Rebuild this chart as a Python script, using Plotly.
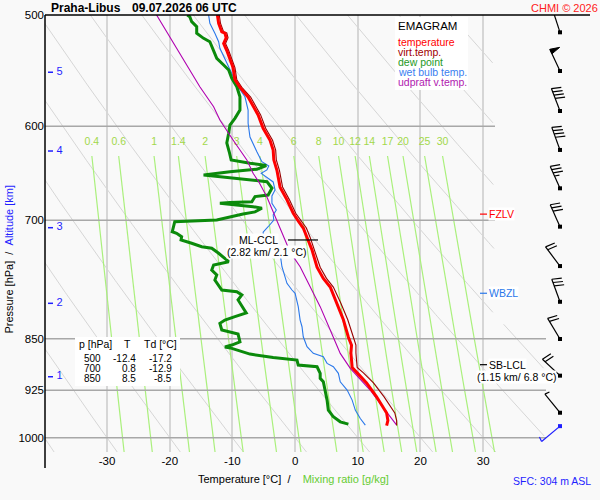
import numpy as np
import plotly.graph_objects as go

# ---------------- data ----------------
P_T = [500, 507, 514, 515, 519, 524, 530, 538, 545, 556, 563, 572, 581, 589, 602, 614, 624, 634, 645, 663,
       677, 692, 702, 709, 720, 735, 756, 770, 781, 802, 824, 848, 859, 870, 891, 899, 914, 935, 951, 960, 972, 980]
T_C = [-12.4, -12.2, -11.7, -11.2, -11.0, -11.4, -10.9, -10.4, -9.9, -9.6, -8.8, -7.5, -6.7, -5.9, -5.1, -4.0,
       -3.5, -3.4, -2.9, -2.4, -1.3, -0.3, 0.6, 1.3, 1.9, 2.7, 3.5, 4.5, 5.6, 6.7, 7.7, 8.5, 9.0, 8.9, 9.1, 9.9,
       11.4, 13.0, 14.0, 14.6, 14.8, 14.6]
TV_C = [-12.1, -11.9, -11.4, -10.9, -10.7, -11.1, -10.6, -10.1, -9.6, -9.3, -8.5, -7.1, -6.3, -5.5, -4.7, -3.6,
        -3.1, -3.0, -2.5, -2.0, -0.9, 0.1, 1.1, 1.8, 2.4, 3.1, 4.0, 5.0, 6.1, 7.3, 8.4, 9.3, 9.7, 9.7, 9.9, 10.9,
        12.5, 14.2, 15.3, 15.9, 16.2, 16.2]

P_TD = [500, 501.4, 505.5, 509.7, 515.2, 519.5, 522.4, 529.5, 536.8, 542.7, 547.2, 554.7, 562.4, 571.7, 584.3,
        592.3, 598.8, 607.0, 616.7, 625.9, 634.2, 637.6, 639.9, 643.9, 646.4, 649.9, 653.4, 657.1, 664.2, 671.6,
        673.4, 679.0, 679.9, 680.8, 684.6, 686.4, 690.5, 692.9, 699.7, 701.7, 713.3, 715.1, 719.2, 723.0, 726.9,
        731.0, 732.9, 738.9, 749.2, 753.3, 759.5, 765.7, 772.0, 784.8, 787.0, 791.2, 797.7, 806.5, 814.9, 819.9,
        824.4, 828.9, 838.0, 843.6, 854.3, 858.9, 861.7, 863.6, 871.7, 876.5, 880.3, 887.6, 890.0, 899.7, 907.1,
        912.2, 924.7, 940.0, 955.5, 966.1, 974.1, 977.8]
TD_C = [-17.2, -16.8, -16.5, -15.7, -15.7, -14.6, -13.6, -13.0, -12.5, -11.4, -10.6, -10.1, -9.3, -8.8, -8.8,
        -9.6, -10.4, -10.6, -10.9, -10.5, -10.2, -7.2, -4.6, -6.1, -10.4, -14.6, -9.9, -4.5, -3.7, -4.3,
        -6.4, -6.9, -10.4, -12.0, -6.7, -5.3, -6.4, -8.3, -12.5, -19.2, -19.6, -18.9, -18.1, -18.2, -16.5,
        -14.9, -13.3, -12.2, -10.6, -13.0, -13.3, -12.5, -12.8, -11.7, -9.3, -8.5, -9.1, -8.5, -7.8, -9.6,
        -11.2, -12.0, -11.7, -9.1, -8.8, -10.1, -11.2, -10.1, -7.2, -3.5, 0.3, 0.5, 3.5, 4.0, 4.0,
        4.5, 4.8, 5.1, 5.3, 6.1, 7.2, 8.5]

P_TW = [500, 506.9, 515.2, 522.4, 528.1, 541.2, 550.2, 562.4, 571.7, 584.3, 597.1, 610.7, 625.6, 635.9, 640.4,
        644.6, 648.2, 653.4, 657.4, 666.1, 672.7, 680.8, 688.3, 694.0, 699.7, 707.5, 713.7, 723.0, 731.4, 738.9,
        755.4, 776.2, 784.8, 789.1, 806.5, 824.4, 833.5, 847.3, 861.3, 870.7, 875.6, 885.1, 890.0, 899.7, 912.2,
        924.7, 940.0, 955.5, 968.8, 979.3]
TW_C = [-13.8, -13.6, -12.8, -12.2, -12.0, -10.9, -10.1, -9.1, -8.0, -7.5, -7.5, -7.2, -6.1, -5.3, -4.2,
        -4.5, -5.4, -4.3, -3.5, -3.2, -3.7, -3.7, -3.0, -3.5, -3.4, -4.3, -5.1, -5.0, -3.7, -2.4,
        -2.1, -1.3, -0.5, 0.0, 0.5, 0.8, 1.1, 1.3, 1.9, 2.9, 4.5, 5.1, 6.1, 6.9, 7.2,
        8.3, 9.1, 9.6, 10.4, 11.2]

P_PV = [500, 518.1, 538.3, 562.4, 581.1, 593.9, 613.7, 623.8, 634.2, 648.2, 657.1, 673.8, 699.7, 723.0, 737.4,
        755.4, 780.6, 806.5, 838.0, 870.7, 892.4, 925.0, 951.0, 979.3]
PV_C = [-22.1, -20.0, -17.8, -15.2, -13.0, -12.0, -9.9, -8.8, -7.7, -6.7, -5.8, -4.5, -2.9, -1.6, -0.8,
        0.8, 2.4, 4.0, 5.6, 7.2, 8.8, 12.0, 14.0, 16.2]

WIND_P = [514.4, 548.1, 585.2, 623.8, 664.3, 707.4, 754.6, 800.1, 850.4, 903.1, 959.7]
WIND_DIR = [342, 335, 339, 340, 336, 336, 323, 340, 329, 313, 321]
WIND_KT = [50, 50, 40, 40, 35, 30, 20, 30, 20, 20, 5]
SFC_P, SFC_DIR, SFC_KT = 981.0, 230, 5

ALT_KM = [1, 2, 3, 4, 5]
ALT_P = [904.7, 802.1, 708.6, 624.9, 549.2]

TABLE_P = [500, 700, 850]
TABLE_T = [-12.4, 0.8, 8.5]
TABLE_TD = [-17.2, -12.9, -8.5]

MIX_RATIOS = [0.4, 0.6, 1, 1.4, 2, 3, 4, 6, 8, 10, 12, 14, 17, 20, 25, 30]
P_TICKS = [500, 600, 700, 850, 925, 1000]
T_TICKS = [-30, -20, -10, 0, 10, 20, 30]
THETA_C = list(range(-40, 141, 10))

FZLV_P, WBZL_P, SBLCL_P, MLCCL_P, MLCCL_T = 693, 789, 887, 723, 2.1

# ---------------- layout geometry ----------------
W, H = 600, 500
ML, MR, MT, MB = 45, 4, 15, 48
PW, PH = W - ML - MR, H - MT - MB
TMIN, TMAX = -39.9, 48.0
PTOP, PBOT = 500.0, 1023.5
LT, LB = np.log10(PTOP), np.log10(PBOT)
FONT = "Liberation Sans, Arial, sans-serif"


def tx(px):
    return TMIN + (px - ML) / PW * (TMAX - TMIN)


def xpap(px):
    return (px - ML) / PW


def ypap(py):
    return (MT + PH - py) / PH


def ypap_p(p):
    return (LB - np.log10(p)) / (LB - LT)


KX = (TMAX - TMIN) / PW
KY = (LB - LT) / PH

fig = go.Figure()


def add_line(xs, ys, color, width, dash=None):
    fig.add_trace(go.Scatter(x=xs, y=ys, mode="lines", line=dict(color=color, width=width, dash=dash),
                             hoverinfo="skip", showlegend=False))


# dry adiabats
pa = np.geomspace(PTOP, PBOT, 220)
ax, ay = [], []
for th in THETA_C:
    t = (th + 273.15) * (pa / 1000.0) ** 0.2857 - 273.15
    ok = (t <= tx(494)) | ((pa >= 830) & (t <= tx(545)))
    for ti, pi, k in zip(t, pa, ok):
        ax.append(float(ti) if k else None)
        ay.append(float(pi))
    ax.append(None); ay.append(None)
add_line(ax, ay, "#d6d6d6", 1)

# mixing ratio lines
pm = np.geomspace(630, PBOT, 60)
mx, my, lx = [], [], []
for w in MIX_RATIOS:
    e = w * pm / (622.0 + w)
    le = np.log(e / 6.112)
    td = 243.5 * le / (17.67 - le)
    mx += list(td) + [None]
    my += list(pm) + [None]
    lx.append(float(td[0]))
add_line(mx, my, "#aaf07c", 1.2)
fig.add_trace(go.Scatter(x=lx, y=[616.5] * len(lx), mode="text",
                         text=[("%g" % w) for w in MIX_RATIOS],
                         textfont=dict(family=FONT, size=10.5, color="#a2d84a"),
                         hoverinfo="skip", showlegend=False))

# horizontal pressure lines
for p in P_TICKS[1:]:
    xe = tx(495) if p < 800 else tx(546)
    add_line([TMIN, xe], [p, p], "#a8a8a8", 1.5)

# altitude ticks
for km, p in zip(ALT_KM, ALT_P):
    add_line([tx(48), tx(53)], [p, p], "#1f1fff", 1.5)
fig.add_trace(go.Scatter(x=[tx(59.5)] * len(ALT_KM), y=ALT_P, mode="text", text=[str(k) for k in ALT_KM],
                         textfont=dict(family=FONT, size=11, color="#1f1fff"), hoverinfo="skip",
                         showlegend=False))

# sounding
add_line(TW_C, P_TW, "#2a78ea", 1.1)
add_line(TD_C, P_TD, "#0b8a0b", 3)
add_line(PV_C, P_PV, "#b000b0", 1.1)
add_line(TV_C, P_T, "#990000", 1.1)
add_line(T_C, P_T, "#ff0000", 3)

# ML-CCL, FZLV, WBZL, SB-LCL markers
add_line([tx(288), tx(318)], [MLCCL_P, MLCCL_P], "#000000", 1.2)
add_line([tx(480), tx(487)], [FZLV_P, FZLV_P], "#ff0000", 1.2)
add_line([tx(480), tx(487)], [WBZL_P, WBZL_P], "#2a78ea", 1.2)
add_line([tx(480), tx(487)], [SBLCL_P, SBLCL_P], "#000000", 1.2)

# wind barbs
BX = tx(560)


def barb(p, ddeg, spd, color):
    th = np.radians(ddeg)
    u = np.array([np.sin(th), -np.cos(th)])
    perp = np.array([-u[1], u[0]])
    a = np.radians(14)
    b = np.cos(a) * perp - np.sin(a) * u
    L = 24.0

    def d(v):
        return BX + v[0] * KX, 10 ** (np.log10(p) + v[1] * KY)

    segs = [[np.zeros(2), L * u]]
    polys = []
    n50 = spd // 50
    rem = spd - 50 * n50
    n10 = rem // 10
    n5 = 1 if rem % 10 >= 5 else 0
    pos = L
    for _ in range(n50):
        p0, p1 = pos * u, (pos - 5) * u
        polys.append([p0, p0 + 10 * b, p1, p0])
        pos -= 6.5
    for _ in range(n10):
        segs.append([pos * u, pos * u + 10 * b])
        pos -= 3.5
    if n5:
        segs.append([pos * u, pos * u + 5 * b])
    xs, ys = [], []
    for s in segs:
        for v in s:
            xx, yy = d(v)
            xs.append(xx); ys.append(yy)
        xs.append(None); ys.append(None)
    add_line(xs, ys, color, 1.2)
    for poly in polys:
        pts = [d(v) for v in poly]
        fig.add_trace(go.Scatter(x=[q[0] for q in pts], y=[q[1] for q in pts], mode="lines", fill="toself",
                                 fillcolor=color, line=dict(color=color, width=1), hoverinfo="skip",
                                 showlegend=False))


for p, dd, s in zip(WIND_P, WIND_DIR, WIND_KT):
    barb(p, dd, s, "#000000")
barb(SFC_P, SFC_DIR, SFC_KT, "#1f1fff")
fig.add_trace(go.Scatter(x=[BX] * len(WIND_P), y=WIND_P, mode="markers",
                         marker=dict(symbol="square", size=4, color="#000000"), hoverinfo="skip",
                         showlegend=False))
fig.add_trace(go.Scatter(x=[BX], y=[SFC_P], mode="markers",
                         marker=dict(symbol="square", size=4, color="#1f1fff"), hoverinfo="skip",
                         showlegend=False))

# ---------------- shapes & annotations ----------------
shapes = [
    dict(type="line", xref="paper", yref="paper", x0=0, x1=0, y0=ypap(468), y1=1,
         line=dict(color="#000000", width=1.5)),
    dict(type="line", xref="paper", yref="paper", x0=0, x1=xpap(590), y0=1, y1=1,
         line=dict(color="#000000", width=1.5)),
    dict(type="rect", xref="paper", yref="paper", x0=xpap(395), x1=xpap(468), y0=ypap(90), y1=ypap(17),
         fillcolor="#ffffff", line=dict(width=0)),
    dict(type="rect", xref="paper", yref="paper", x0=xpap(75), x1=xpap(180), y0=ypap(386), y1=ypap(337),
         fillcolor="#ffffff", line=dict(width=0)),
]

ann = []


def text(px, py, s, size=10.5, color="#000000", xanchor="left", bg=None, yp=None, **kw):
    d = dict(x=xpap(px), y=(ypap(py) if yp is None else yp), xref="paper", yref="paper", text=s,
             showarrow=False, xanchor=xanchor, yanchor="middle",
             font=dict(family=FONT, size=size, color=color), borderpad=0)
    if bg:
        d["bgcolor"] = bg
    d.update(kw)
    ann.append(d)


text(50, 7.5, "<b>Praha-Libus</b>", size=12)
text(131, 7.5, "<b>09.07.2026 06 UTC</b>", size=12)
text(530, 7.5, "CHMI © 2026", size=11, color="#ff2020")

text(397, 26, "EMAGRAM", size=11.5)
for i, (s, c) in enumerate([("temperature", "#ff0000"), ("virt.temp.", "#a00000"), ("dew point", "#1e9a1e"),
                            ("wet bulb temp.", "#3a80f0"), ("udpraft v.temp.", "#b020b0")]):
    text(397, 42 + 10 * i, s, size=10.5, color=c)

text(78, 344, "p [hPa]", size=10.5)
text(127, 344, "T", size=10.5, xanchor="center")
text(143, 344, "Td [°C]", size=10.5)
for i, (pp, tt, dd) in enumerate(zip(TABLE_P, TABLE_T, TABLE_TD)):
    y = 358.3 + 10 * i
    text(102, y, str(pp), size=10, xanchor="right")
    text(137, y, "%.1f" % tt, size=10, xanchor="right")
    text(173, y, "%.1f" % dd, size=10, xanchor="right")

text(488, 0, "FZLV", color="#ff0000", bg="#ffffff", yp=ypap_p(FZLV_P))
text(488, 0, "WBZL", color="#2a78ea", bg="#ffffff", yp=ypap_p(WBZL_P))
text(488, 0, "SB-LCL", color="#000000", bg="#ffffff", yp=ypap_p(SBLCL_P))
text(516, 376.5, "(1.15 km/ 6.8 °C)", xanchor="center", bg="#ffffff")
text(279, 0, "ML-CCL", xanchor="right", bg="#ffffff", yp=ypap_p(MLCCL_P))
text(266.5, 251.5, "(2.82 km/ %.1f °C)" % MLCCL_T, xanchor="center", bg="#ffffff")

text(197, 479, 'Temperature [°C]&nbsp;&nbsp;/&nbsp;&nbsp;&nbsp;&nbsp;'
               '<span style="color:#66cc33">Mixing ratio [g/kg]</span>', size=11)
text(512, 481, "SFC: 304 m ASL", size=10.5, color="#1f1fff")
ann.append(dict(x=xpap(8.5), y=ypap(259), xref="paper", yref="paper", showarrow=False, textangle=-90,
                xanchor="center", yanchor="middle",
                text='Pressure [hPa]&nbsp;&nbsp;/&nbsp;&nbsp;<span style="color:#1f1fff">Altitude [km]</span>',
                font=dict(family=FONT, size=11, color="#000000")))

fig.update_layout(
    width=W, height=H, margin=dict(l=ML, r=MR, t=MT, b=MB, pad=0),
    paper_bgcolor="#f9f9f9", plot_bgcolor="#f9f9f9",
    showlegend=False, shapes=shapes, annotations=ann,
    xaxis=dict(range=[TMIN, TMAX], tickvals=T_TICKS, ticktext=[str(t) for t in T_TICKS],
               showgrid=True, gridcolor="#d6d6d6", gridwidth=1.5, zeroline=False, showline=False,
               ticks="", tickfont=dict(family=FONT, size=11.5, color="#000000"), fixedrange=True),
    yaxis=dict(type="log", range=[LB, LT], tickvals=P_TICKS, ticktext=[str(p) for p in P_TICKS],
               showgrid=False, zeroline=False, showline=False, ticks="",
               tickfont=dict(family=FONT, size=11.5, color="#000000"), fixedrange=True),
)

fig.write_html("out.html", config={"displayModeBar": False},
               post_script="document.body.style.margin='0';document.body.style.background='#f9f9f9';")
